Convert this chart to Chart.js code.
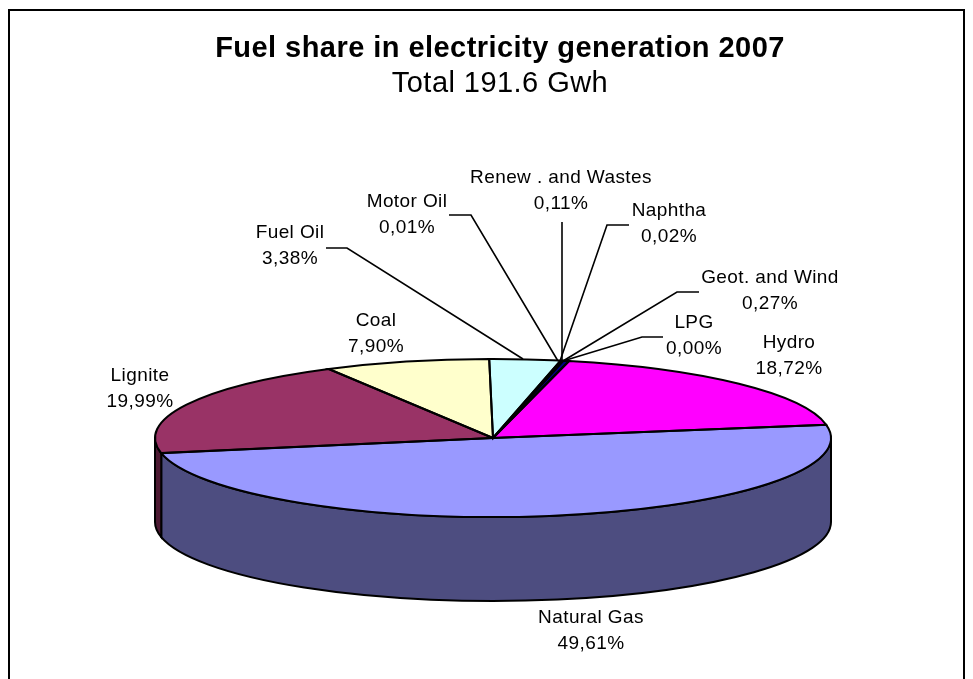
<!DOCTYPE html>
<html lang="en">
<head>
<meta charset="utf-8" />
<title>Fuel share in electricity generation 2007</title>
<style>
*{box-sizing:border-box;margin:0;padding:0}
html,body{width:973px;height:679px;background:#fff;overflow:hidden}
#frame{position:absolute;left:8px;top:9px;width:957px;height:680px;border:2px solid #000}
#wrap{position:absolute;left:0;top:0;width:973px;height:679px}
</style>
</head>
<body>
<div id="frame"></div>
<div id="wrap"><canvas id="pie" width="973" height="679"></canvas></div>

<script src="https://cdn.jsdelivr.net/npm/chart.js@4.4.1"></script>
<script>
/* values */
const fuels  = ['Hydro','Natural Gas','Lignite','Coal','Fuel Oil','Motor Oil','Renew . and Wastes','Naphtha','Geot. and Wind','LPG'];
const shares = [18.72,49.61,19.99,7.90,3.38,0.01,0.11,0.02,0.27,0.00];
const shareText = ['18,72%','49,61%','19,99%','7,90%','3,38%','0,01%','0,11%','0,02%','0,27%','0,00%'];
const topColors  = ['#ff00ff','#9999ff','#993366','#ffffcc','#ccffff','#660066','#ccccff','#0066cc','#000080','#000080'];
const sideColors = ['#800080','#4d4d80','#4d1a33','#808066','#668080','#330033','#666680','#003366','#000040','#000040'];

/* label placement: text centre x, first line y, leader polyline */
const labelX = [789,591,140,376,290,407,561,669,770,694];
const labelY = [343,618,376,321,233,202,178,211,278,323];
const leaders = [
  null,null,null,null,
  [[326,248],[347,248],[523,359]],
  [[449,215],[471,215],[558,361]],
  [[562,222],[562,360]],
  [[629,225],[607,225],[560,361]],
  [[699,292],[677,292],[563,361]],
  [[663,337],[642,337],[563,361]]
];

/* the flat pie gets squeezed onto this ellipse, depth is the wall height */
const cx = 493, cy = 438, rx = 338, ry = 79, depth = 84;

function toEllipse(ctx, arc){
  ctx.translate(cx, cy);
  ctx.scale(rx/arc.outerRadius, ry/arc.outerRadius);
  ctx.translate(-arc.x, -arc.y);
}

const pie3d = {
  id:'pie3d',
  beforeDraw(chart){
    // the reference text runs wide, title is drawn before the datasets
    chart.ctx.letterSpacing = '0.45px';
  },
  beforeDatasetsDraw(chart){
    const ctx = chart.ctx, arcs = chart.getDatasetMeta(0).data;
    /* walls: only what faces the viewer, angle 0..PI in canvas terms */
    arcs.forEach((a,i)=>{
      const two = Math.PI*2;
      let s = a.startAngle, e = a.endAngle;
      while(s >= two){ s -= two; e -= two; }
      const ranges = [[s,e],[s-two,e-two],[s+two,e+two]];
      ranges.forEach(([r0,r1])=>{
        const from = Math.max(r0,0), to = Math.min(r1,Math.PI);
        if(to <= from) return;
        ctx.beginPath();
        ctx.ellipse(cx,cy,rx,ry,0,from,to);
        ctx.ellipse(cx,cy+depth,rx,ry,0,to,from,true);
        ctx.closePath();
        ctx.fillStyle = sideColors[i];
        ctx.fill();
        ctx.strokeStyle = '#000';
        ctx.lineWidth = 2;
        ctx.stroke();
      });
    });
    ctx.save();
    toEllipse(ctx, arcs[0]);
  },
  afterDatasetsDraw(chart){
    const ctx = chart.ctx, arcs = chart.getDatasetMeta(0).data;
    ctx.restore();
    /* outlines are stroked untransformed so the pen stays even */
    ctx.strokeStyle = '#000';
    ctx.lineWidth = 2;
    arcs.forEach((a,i)=>{
      if(shares[i] < 0.05) return;   // hairline slices would only blacken the neighbours
      ctx.beginPath();
      ctx.moveTo(cx,cy);
      ctx.ellipse(cx,cy,rx,ry,0,a.startAngle,a.endAngle);
      ctx.closePath();
      ctx.stroke();
    });
    /* labels and leaders */
    ctx.font = '19px "Liberation Sans", Arial, sans-serif';
    ctx.letterSpacing = '0.4px';
    ctx.textAlign = 'center';
    ctx.textBaseline = 'middle';
    ctx.fillStyle = '#000';
    fuels.forEach((name,i)=>{
      ctx.fillText(name, labelX[i], labelY[i]);
      ctx.fillText(shareText[i], labelX[i], labelY[i]+26);
      if(!leaders[i]) return;
      ctx.beginPath();
      leaders[i].forEach(([x,y],k)=> k ? ctx.lineTo(x,y) : ctx.moveTo(x,y));
      ctx.lineWidth = 1.6;
      ctx.stroke();
    });
  }
};

new Chart(document.getElementById('pie'),{
  type:'pie',
  data:{labels:fuels,datasets:[{data:shares,backgroundColor:topColors,borderWidth:0,clip:false}]},
  options:{
    responsive:false,
    animation:false,
    rotation:13,
    layout:{padding:{left:27}},
    plugins:{
      legend:{display:false},
      tooltip:{enabled:false},
      title:{
        display:true,
        text:'Fuel share in electricity generation 2007',
        color:'#000',
        font:{family:'"Liberation Sans", Arial, sans-serif',size:29,weight:'bold'},
        padding:{top:32,bottom:0}
      },
      subtitle:{
        display:true,
        text:'Total 191.6 Gwh',
        color:'#000',
        font:{family:'"Liberation Sans", Arial, sans-serif',size:29,weight:'normal'},
        padding:{top:0,bottom:10}
      }
    }
  },
  plugins:[pie3d]
});
</script>
</body>
</html>
